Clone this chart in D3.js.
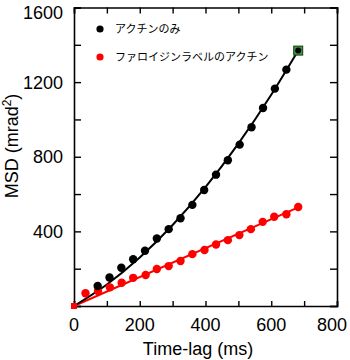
<!DOCTYPE html>
<html><head><meta charset="utf-8">
<script src="https://cdn.jsdelivr.net/npm/d3@7"></script>
<style>body{margin:0;background:#fff}svg{display:block}</style>
</head><body>
<svg id="c" width="350" height="360"></svg>
<script>
const seriesNames = ["アクチンのみ", "ファロイジンラベルのアクチン"];
const timeBlack = [72,108,144,180,216,252,288,324,360,396,432,468,504,540,575,611,646,682];
const msdBlack  = [107,153,205,251,296,362,412,470,542,622,704,781,865,958,1061,1165,1267,1369];
const timeRed   = [35,73,109,145,180,218,252,288,324,360,397,432,468,503,538,574,609,646,682];
const msdRed    = [68,80,100,125,151,166,198,214,241,278,300,330,353,380,412,451,478,492,531];
const fitBlackT = [0,100,200,300,400,500,600,682];
const fitBlackV = [0,115,260,434,637,870,1132,1369];
const fitRedT   = [0,682];
const fitRedV   = [0,529];
const xTicks = [0,200,400,600,800];
const yTicks = [400,800,1200,1600];

const svg = d3.select("#c");
const x = d3.scaleLinear().domain([0,800]).range([74,337]);
const y = d3.scaleLinear().domain([0,1600]).range([306,7.5]);
const font = "Arial, 'Liberation Sans', sans-serif";

// axes
const gB = svg.append("g").attr("transform","translate(0,306)")
  .call(d3.axisBottom(x).tickValues(d3.range(0,801,100)).tickSize(-5).tickFormat(""));
const gT = svg.append("g").attr("transform","translate(0,7.5)")
  .call(d3.axisTop(x).tickValues(d3.range(0,801,100)).tickSize(-6).tickFormat(""));
const gL = svg.append("g").attr("transform","translate(74,0)")
  .call(d3.axisLeft(y).tickValues(d3.range(0,1601,200)).tickSize(-7).tickFormat(""));
const gR = svg.append("g").attr("transform","translate(337,0)")
  .call(d3.axisRight(y).tickValues(d3.range(0,1601,200)).tickSize(-7).tickFormat(""));
[gB,gT,gL,gR].forEach(g=>{
  g.select(".domain").attr("stroke","#000").attr("stroke-width",1.6);
  g.selectAll(".tick line").attr("stroke","#000").attr("stroke-width",1.4);
});

// tick labels
svg.append("g").selectAll("text").data(xTicks).join("text")
  .attr("x",d=>Math.min(x(d),332)).attr("y",331).attr("text-anchor","middle")
  .attr("font-family",font).attr("font-size",18).attr("fill","#000").text(d=>d);
svg.append("g").selectAll("text").data(yTicks).join("text")
  .attr("x",63).attr("y",d=>Math.max(y(d)+6.5,18.5)).attr("text-anchor","end")
  .attr("font-family",font).attr("font-size",18).attr("fill","#000").text(d=>d);

// axis titles
svg.append("text").attr("x",198).attr("y",355).attr("text-anchor","middle")
  .attr("font-family",font).attr("font-size",18).attr("fill","#000").text("Time-lag (ms)");
const yt = svg.append("text").attr("transform","translate(18,146) rotate(-90)")
  .attr("text-anchor","middle").attr("font-family",font).attr("font-size",18).attr("fill","#000");
yt.append("tspan").text("MSD (mrad");
yt.append("tspan").attr("font-size",12).attr("dy",-7).text("2");
yt.append("tspan").attr("dy",7).text(")");

// fit lines
const line = d3.line().x(d=>x(d[0])).y(d=>y(d[1])).curve(d3.curveMonotoneX);
svg.append("path").datum(d3.zip(fitRedT,fitRedV)).attr("d",line)
  .attr("fill","none").attr("stroke","#f00").attr("stroke-width",2);
svg.append("path").datum(d3.zip(fitBlackT,fitBlackV)).attr("d",line)
  .attr("fill","none").attr("stroke","#000").attr("stroke-width",2);

// points
svg.append("g").selectAll("circle").data(d3.zip(timeRed,msdRed)).join("circle")
  .attr("cx",d=>x(d[0])).attr("cy",d=>y(d[1])).attr("r",4.2).attr("fill","#f00");
const nB = timeBlack.length;
svg.append("rect").attr("x",x(timeBlack[nB-1])-4.5).attr("y",y(msdBlack[nB-1])-4.5).attr("width",9).attr("height",9)
  .attr("fill","#3c9a3c").attr("stroke","#1a3a1a").attr("stroke-width",1);
svg.append("g").selectAll("circle").data(d3.zip(timeBlack,msdBlack)).join("circle")
  .attr("cx",d=>x(d[0])).attr("cy",d=>y(d[1])).attr("r",(d,i)=>i===nB-1?3:4.2)
  .attr("fill","#000");
svg.append("rect").attr("x",x(0)-3).attr("y",y(0)-3).attr("width",6).attr("height",6).attr("fill","#f00");

// legend
const colors = ["#000","#f00"];
const lg = svg.append("g");
seriesNames.forEach((n,i)=>{
  lg.append("circle").attr("cx",100).attr("cy",29+i*28).attr("r",3.6).attr("fill",colors[i]);
  lg.append("text").attr("x",115).attr("y",33+i*28).attr("font-family","'Noto Sans CJK JP', sans-serif")
    .attr("font-size",11).attr("fill","#000").text(n);
});
</script>
</body></html>
